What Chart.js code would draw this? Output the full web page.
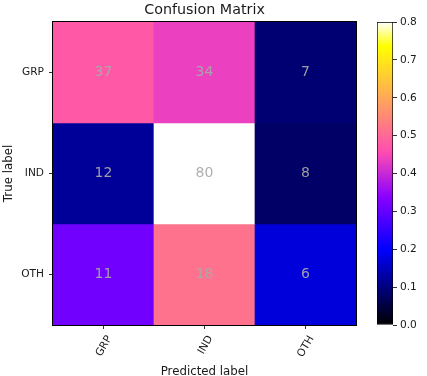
<!DOCTYPE html>
<html>
<head>
<meta charset="utf-8">
<script src="https://cdn.jsdelivr.net/npm/chart.js@4.4.1/dist/chart.umd.min.js"></script>
<style>
  html, body { margin: 0; padding: 0; background: #ffffff; }
  #wrap { position: relative; width: 427px; height: 376px; }
  #main { position: absolute; left: 0; top: 0; }
  #cbar { position: absolute; left: 360px; top: 0; }
</style>
</head>
<body>
<div id="wrap">
  <canvas id="main" width="427" height="376"></canvas>
  <canvas id="cbar" width="67" height="376"></canvas>
</div>
<script>
// ---- data ----
const classes = ['GRP', 'IND', 'OTH'];          // true (rows) and predicted (columns) labels
const rowGRP = [37, 34, 7];
const rowIND = [12, 80, 8];
const rowOTH = [11, 18, 6];
const counts = [rowGRP, rowIND, rowOTH];
const colorbarTicks = [0.0, 0.1, 0.2, 0.3, 0.4, 0.5, 0.6, 0.7, 0.8];

// row-normalised values drive the colours
const normalized = counts.map(r => { const s = r.reduce((a, b) => a + b, 0); return r.map(v => v / s); });
const vmax = Math.max(...normalized.flat());

// matplotlib "gnuplot2" colormap
function clip(v) { return Math.max(0, Math.min(1, v)); }
function gnuplot2(t) {
  const r = clip(t / 0.32 - 0.78125);
  const g = clip(2 * t - 0.84);
  let b;
  if (t < 0.25) b = 4 * t; else if (t < 0.92) b = -2 * t + 1.84; else b = t / 0.08 - 11.5;
  b = clip(b);
  return `rgb(${Math.round(r * 255)},${Math.round(g * 255)},${Math.round(b * 255)})`;
}

const FONT = "'DejaVu Sans', 'Liberation Sans', sans-serif";
const TXT = '#1a1a1a';

const datasets = counts.map((row, i) => ({
  label: classes[i],
  data: row.map(() => [i, i + 1]),
  backgroundColor: normalized[i].map(v => gnuplot2(v / vmax)),
  borderWidth: 0,
  barPercentage: 1,
  categoryPercentage: 1,
  grouped: false
}));

const framePlugin = {
  id: 'frame',
  afterDatasetsDraw(chart) {
    const { ctx, chartArea: a, scales } = chart;
    // cell annotations
    ctx.save();
    ctx.font = `14px ${FONT}`;
    ctx.fillStyle = 'rgba(169,169,169,0.92)';
    ctx.textAlign = 'center';
    ctx.textBaseline = 'middle';
    counts.forEach((row, i) => row.forEach((v, j) => {
      ctx.fillText(String(v), scales.x.getPixelForValue(j), scales.y.getPixelForValue(i + 0.5));
    }));
    ctx.restore();
    ctx.save();
    ctx.strokeStyle = '#000';
    ctx.lineWidth = 1;
    ctx.strokeRect(Math.round(a.left) - 0.5, Math.round(a.top) - 0.5, Math.round(a.right - a.left) + 1, Math.round(a.bottom - a.top) + 1);
    ctx.restore();
  },
  beforeDraw(chart) {
    // centre the rotated x tick labels under their ticks (matplotlib ha='center')
    const items = chart.scales.x.getLabelItems();
    items.forEach(it => {
      if (!it._shifted) { it.options.translation[0] += 6; it.options.translation[1] += 1.5; it._shifted = true; }
    });
  }
};

new Chart(document.getElementById('main'), {
  type: 'bar',
  data: { labels: classes, datasets },
  plugins: [framePlugin],
  options: {
    responsive: false,
    animation: false,
    events: [],
    layout: { padding: { left: 0, right: 18, top: 0, bottom: 0 } },
    plugins: {
      legend: { display: false },
      tooltip: { enabled: false },
      title: {
        display: true,
        text: 'Confusion Matrix',
        color: TXT,
        font: { family: FONT, size: 14.3, weight: 'normal' },
        padding: { top: 1.8, bottom: 3 }
      }
    },
    scales: {
      x: {
        type: 'category',
        offset: true,
        grid: { display: true, drawOnChartArea: false, drawTicks: true, tickLength: 4, offset: false, color: '#333' },
        border: { display: false },
        ticks: { color: TXT, font: { family: FONT, size: 10.6 }, minRotation: 60, maxRotation: 60, padding: 3 },
        title: { display: true, text: 'Predicted label', color: TXT, font: { family: FONT, size: 11.8 }, padding: { top: 0, bottom: -3 } },
        afterFit(s) { s.height = 51; }
      },
      y: {
        type: 'linear',
        min: 0,
        max: 3,
        reverse: true,
        afterBuildTicks(s) { s.ticks = classes.map((c, i) => ({ value: i + 0.5 })); },
        grid: { display: true, drawOnChartArea: false, drawTicks: true, tickLength: 4, color: '#333' },
        border: { display: false },
        ticks: { color: TXT, font: { family: FONT, size: 10.6 }, padding: 5, callback: (v, idx) => classes[idx] },
        title: { display: true, text: 'True label', color: TXT, font: { family: FONT, size: 11.8 }, padding: { top: 1.5, bottom: 0 } },
        afterFit(s) { s.width = 53; }
      },
      // invisible spacer on the right, reserving room for the colour bar
      y2: {
        type: 'linear',
        position: 'right',
        display: true,
        grid: { display: false },
        border: { display: false },
        ticks: { display: false },
        afterFit(s) { s.width = 53; }
      }
    }
  }
});

// ---- colour bar ----
new Chart(document.getElementById('cbar'), {
  type: 'bar',
  data: {
    labels: [''],
    datasets: [{
      data: [[0, vmax]],
      backgroundColor(ctx) {
        const chart = ctx.chart;
        const ys = chart.scales.y;
        if (!chart.chartArea || !ys) return '#888';
        const g = chart.ctx.createLinearGradient(0, ys.getPixelForValue(0), 0, ys.getPixelForValue(vmax));
        for (let k = 0; k <= 100; k++) g.addColorStop(k / 100, gnuplot2(k / 100));
        return g;
      },
      borderColor: '#000',
      borderWidth: 1,
      borderSkipped: false,
      barPercentage: 1,
      categoryPercentage: 1
    }]
  },
  options: {
    responsive: false,
    animation: false,
    events: [],
    layout: { padding: { left: 17, right: 0, top: 22, bottom: 51 } },
    plugins: { legend: { display: false }, tooltip: { enabled: false } },
    scales: {
      x: { display: false, offset: true },
      y: {
        position: 'right',
        min: 0,
        max: vmax,
        afterBuildTicks(s) { s.ticks = colorbarTicks.map(v => ({ value: v })); },
        grid: { display: true, drawOnChartArea: false, drawTicks: true, tickLength: 4, color: '#333' },
        border: { display: false },
        ticks: { color: TXT, font: { family: FONT, size: 10.6 }, padding: 3, callback: (v) => Number(v).toFixed(1) },
        afterFit(s) { s.width = 34; }
      }
    }
  }
});
</script>
</body>
</html>
